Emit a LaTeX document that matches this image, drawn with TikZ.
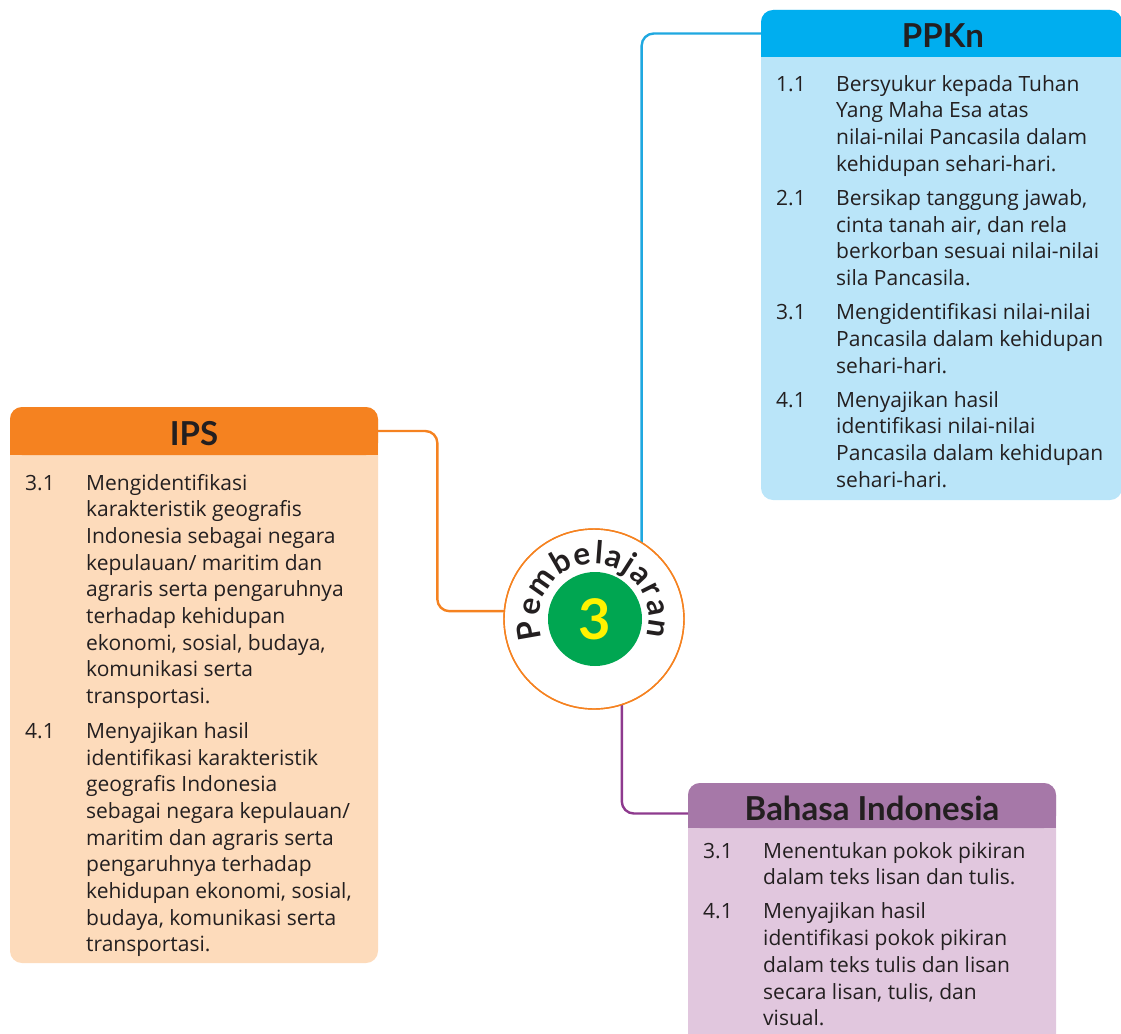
\documentclass[tikz,border=0pt]{standalone}
\usepackage{fontspec}
\setmainfont{Lato}
\newfontfamily\bodyfam{Open Sans}
\definecolor{txt}{HTML}{231F20}
\usetikzlibrary{calc,decorations.text}
\definecolor{bluehead}{HTML}{00AEEF}
\definecolor{bluebody}{HTML}{BAE5F9}
\definecolor{blueline}{HTML}{1FA8E0}
\definecolor{orangehead}{HTML}{F58220}
\definecolor{orangebody}{HTML}{FDDBBB}
\definecolor{purplehead}{HTML}{A678A8}
\definecolor{purplebody}{HTML}{E1C7DE}
\definecolor{purpleline}{HTML}{8E3A8E}
\definecolor{numgreen}{HTML}{00A651}
\definecolor{numyellow}{HTML}{FFF200}
\newcommand{\bodyfnt}{\bodyfam\fontsize{21}{26.7}\selectfont}
\begin{document}
\begin{tikzpicture}[x=1pt,y=1pt,
  hdrbox/.style={rectangle, rounded corners=12, inner sep=0, outer sep=0},
  hdrlabel/.style={anchor=base, inner sep=0, text=txt, font=\fontsize{33}{33}\selectfont\bfseries},
  bodytext/.style={anchor=base west, inner sep=0, text=txt, font=\bodyfnt},
  conn/.style={line width=2.4pt, rounded corners=12}]
\useasboundingbox (0,0) rectangle (1121,-1033);

% ---------- PPKn box ----------
\fill[bluebody, rounded corners=12] (761,-10) rectangle (1122,-500);
\node[hdrbox, fill=bluehead, minimum width=361, minimum height=47] (ppkn) at (941.5,-33.5) {};
\fill[bluehead] (761,-34) rectangle (1122,-57);
\node[hdrlabel] (ppknt) at (943,-48) {PPKn};
\node[bodytext] (ppknb) at (776,-91) {\begin{tabular}[t]{@{}p{60pt}@{}l@{}}
1.1 & Bersyukur kepada Tuhan\\
    & Yang Maha Esa atas\\
    & nilai-nilai Pancasila dalam\\
    & kehidupan sehari-hari.\\[7.5pt]
2.1 & Bersikap tanggung jawab,\\
    & cinta tanah air, dan rela\\
    & berkorban sesuai nilai-nilai\\
    & sila Pancasila.\\[7.5pt]
3.1 & Mengidentifikasi nilai-nilai\\
    & Pancasila dalam kehidupan\\
    & sehari-hari.\\[7.5pt]
4.1 & Menyajikan hasil\\
    & identifikasi nilai-nilai\\
    & Pancasila dalam kehidupan\\
    & sehari-hari.
\end{tabular}};

% ---------- IPS box ----------
\fill[orangebody, rounded corners=12] (10,-407) rectangle (378,-963);
\node[hdrbox, fill=orangehead, minimum width=368, minimum height=48] (ips) at (194,-431) {};
\fill[orangehead] (10,-431) rectangle (378,-455);
\node[hdrlabel] (ipst) at (194,-445) {IPS};
\node[bodytext] (ipsb) at (25,-490) {\begin{tabular}[t]{@{}p{61pt}@{}l@{}}
3.1 & Mengidentifikasi\\
    & karakteristik geografis\\
    & Indonesia sebagai negara\\
    & kepulauan/ maritim dan\\
    & agraris serta pengaruhnya\\
    & terhadap kehidupan\\
    & ekonomi, sosial, budaya,\\
    & komunikasi serta\\
    & transportasi.\\[8pt]
4.1 & Menyajikan hasil\\
    & identifikasi karakteristik\\
    & geografis Indonesia\\
    & sebagai negara kepulauan/\\
    & maritim dan agraris serta\\
    & pengaruhnya terhadap\\
    & kehidupan ekonomi, sosial,\\
    & budaya, komunikasi serta\\
    & transportasi.
\end{tabular}};

% ---------- Bahasa Indonesia box ----------
\fill[purplebody, rounded corners=12] (688,-783) rectangle (1056,-1050);
\node[hdrbox, fill=purplehead, minimum width=368, minimum height=45] (bahasa) at (872,-805.5) {};
\fill[purplehead] (688,-806) rectangle (1056,-828);
\node[hdrlabel] (bahasat) at (872,-820) {Bahasa Indonesia};
\node[bodytext] (bahasab) at (703,-858) {\begin{tabular}[t]{@{}p{60pt}@{}l@{}}
3.1 & Menentukan pokok pikiran\\
    & dalam teks lisan dan tulis.\\[7.5pt]
4.1 & Menyajikan hasil\\
    & identifikasi pokok pikiran\\
    & dalam teks tulis dan lisan\\
    & secara lisan, tulis, dan\\
    & visual.
\end{tabular}};

% ---------- centre circle ----------
\node[circle, draw=orangehead, line width=1.4pt, fill=white, minimum size=180, inner sep=0, outer sep=0] (circ) at (594,-619) {};

% ---------- connectors ----------
\draw[conn, blueline] (ppkn.west) -| (circ.58.5);
\draw[conn, orangehead] (ips.east) -| ($(circ.175)+(-67,0)$) -- (circ.175);
\draw[conn, purpleline] (circ.-72.5) |- ([yshift=-8pt]bahasa.west);

% redraw circle outline over connector ends
\node[circle, draw=orangehead, line width=1.4pt, minimum size=180, inner sep=0, outer sep=0] (circo) at (circ.center) {};

\node[circle, fill=numgreen, minimum size=94, inner sep=0, text=numyellow,
      font=\fontsize{56}{56}\selectfont\bfseries] (num) at ($(circ.center)+(1,0)$) {3};

\path[decorate, decoration={text along path, text align=fit to path,
      text color=txt, text={|\fontsize{31.5}{31.5}\selectfont\bfseries|Pembelajaran}}]
  ($(circ.center)+(200:55)$) arc[start angle=200, end angle=-18, radius=55];
\end{tikzpicture}
\end{document}
